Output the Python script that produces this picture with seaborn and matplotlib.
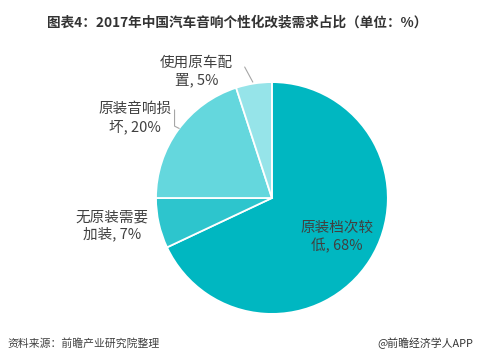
import matplotlib
matplotlib.use('Agg')
import matplotlib.pyplot as plt
import seaborn as sns

# data
categories = ['原装档次较低', '无原装需要加装', '原装音响损坏', '使用原车配置']
shares = [68, 7, 20, 5]
labels = ['原装档次较\n低, 68%', '无原装需要\n加装, 7%', '原装音响损\n坏, 20%', '使用原车配\n置, 5%']

colors = ['#00B7C1', '#2DC5CD', '#64D7DD', '#96E4E9']
# label anchor points in pie coordinates (radius = 1)
label_pos = [(0.56, -0.34), (-1.38, -0.24), (-1.18, 0.69), (-0.65, 1.09)]

sns.set_theme(style='white')
plt.rcParams['font.family'] = ['Noto Sans CJK SC', 'DejaVu Sans']

fig = plt.figure(figsize=(4.8, 3.6), dpi=100)
ax = fig.add_axes([0.325, 0.128, 0.483, 0.644])

wedges, _ = ax.pie(shares, colors=colors, startangle=90, counterclock=False,
                   radius=1.0, wedgeprops=dict(edgecolor='white', linewidth=1.3))
ax.set_xlim(-1, 1)
ax.set_ylim(-1, 1)
ax.set_aspect('equal')
ax.axis('off')

for (x, y), txt in zip(label_pos, labels):
    ax.text(x, y, txt, ha='center', va='center', fontsize=10.5,
            color='#404040', linespacing=1.25)

# leader lines for the two small slices on top
ax.plot([-0.235, -0.165], [1.13, 1.0], color='#A6A6A6', lw=0.8, clip_on=False)
ax.plot([-0.84, -0.84, -0.80], [0.76, 0.62, 0.60], color='#A6A6A6', lw=0.8, clip_on=False)

fig.text(0.495, 0.938, '图表4：2017年中国汽车音响个性化改装需求占比（单位：%）',
         ha='center', va='center', fontsize=9.8, fontweight='bold', color='#333333')
fig.text(0.015, 0.047, '资料来源：前瞻产业研究院整理', ha='left', va='center',
         fontsize=7.8, style='italic', color='#404040')
fig.text(0.985, 0.047, '@前瞻经济学人APP', ha='right', va='center',
         fontsize=7.8, color='#333333')

fig.savefig('out.png', dpi=100)
